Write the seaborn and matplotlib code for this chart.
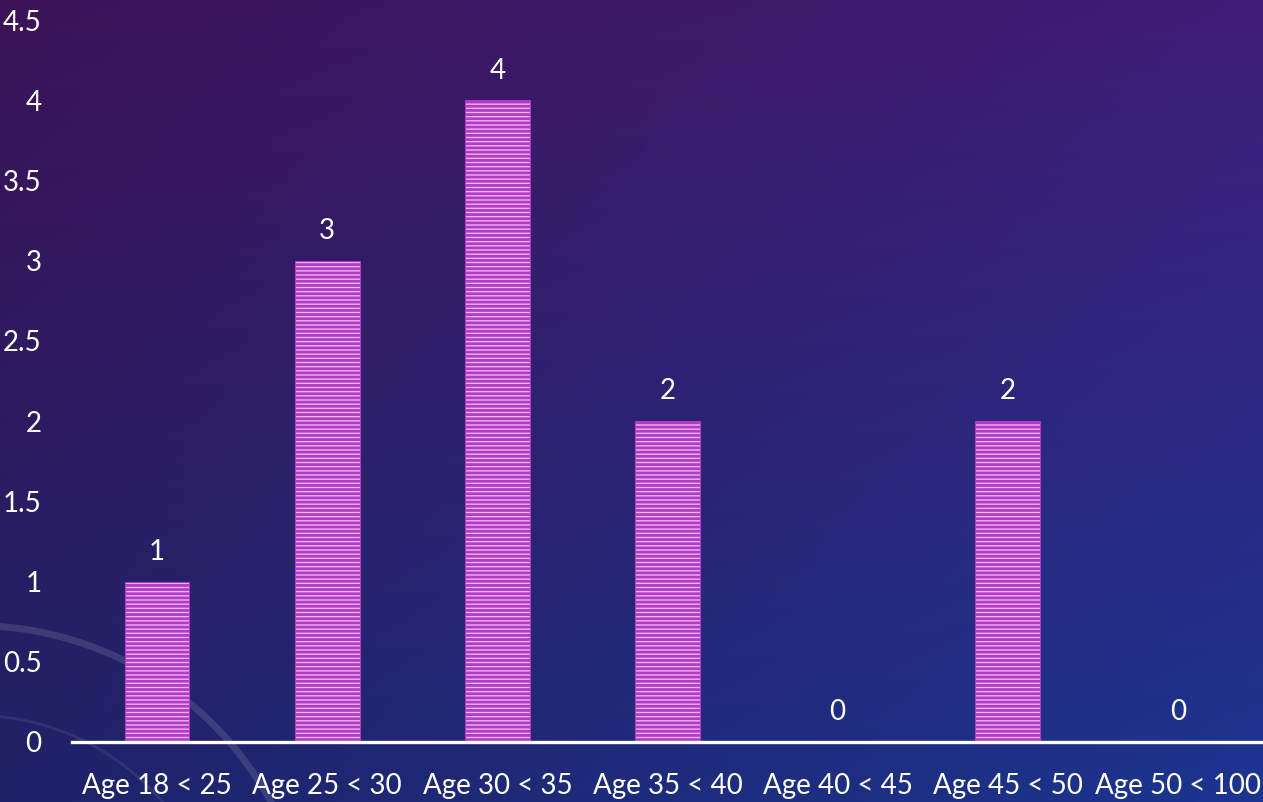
import numpy as np
import pandas as pd
import matplotlib
matplotlib.use("Agg")
import matplotlib.pyplot as plt
import seaborn as sns
from matplotlib.colors import to_rgb

categories = ["Age 18 < 25", "Age 25 < 30", "Age 30 < 35", "Age 35 < 40",
              "Age 40 < 45", "Age 45 < 50", "Age 50 < 100"]
counts = [1, 3, 4, 2, 0, 2, 0]
y_ticks = [0, 0.5, 1, 1.5, 2, 2.5, 3, 3.5, 4, 4.5]
y_tick_labels = ["0", "0.5", "1", "1.5", "2", "2.5", "3", "3.5", "4", "4.5"]

sns.set_theme(style="white")
plt.rcParams["font.family"] = ["Lato", "DejaVu Sans"]
plt.rcParams["hatch.linewidth"] = 2.0

W, H = 1263, 802
fig = plt.figure(figsize=(W / 100, H / 100), dpi=100)

# background gradient
bg = fig.add_axes([0, 0, 1, 1], zorder=0)
tl, tr = np.array(to_rgb("#3c1358")), np.array(to_rgb("#3f1d78"))
bl, br = np.array(to_rgb("#1f2268")), np.array(to_rgb("#1c3590"))
yy, xx = np.mgrid[0:1:200j, 0:1:300j]
img = ((1 - yy)[..., None] * ((1 - xx)[..., None] * tl + xx[..., None] * tr)
       + yy[..., None] * ((1 - xx)[..., None] * bl + xx[..., None] * br))
bg.imshow(img, extent=[0, 1, 0, 1], aspect="auto", origin="upper")
# faint decorative arcs
th = np.linspace(0, 2 * np.pi, 400)
for r, a, lw in [(0.30, 0.12, 5), (0.22, 0.08, 2)]:
    bg.plot(-0.02 + r * np.cos(th) * H / W * 1.4, -0.2 + r * np.sin(th) * 1.4,
            color="white", alpha=a, lw=lw)
bg.set_xlim(0, 1)
bg.set_ylim(0, 1)
bg.axis("off")

ax = fig.add_axes([72 / W, 1 - 742 / H, 1 - 72 / W, (742 - 20) / H], zorder=1)
ax.patch.set_alpha(0)

df = pd.DataFrame({"category": categories, "count": counts})
sns.barplot(data=df, x="category", y="count", ax=ax, width=0.38,
            color="#f0b4f0", edgecolor="#b03cc6", linewidth=0.8,
            hatch="----", saturation=1)

for c in ax.containers:
    ax.bar_label(c, labels=[str(v) for v in counts], padding=12,
                 color="white", fontsize=20)

ax.set_ylim(0, 4.5)
ax.set_xlim(-0.5, len(categories) - 0.5)
ax.set_yticks(y_ticks)
ax.set_yticklabels(y_tick_labels)
ax.tick_params(axis="y", length=0, pad=22, labelcolor="white", labelsize=20)
ax.tick_params(axis="x", length=0, pad=22, labelcolor="white", labelsize=20)
for lab in ax.get_yticklabels():
    lab.set_horizontalalignment("right")
ax.set_xlabel("")
ax.set_ylabel("")
for s in ["top", "right", "left"]:
    ax.spines[s].set_visible(False)
ax.spines["bottom"].set_color("white")
ax.spines["bottom"].set_linewidth(2.4)
ax.grid(False)

fig.savefig("out.png", dpi=100)
